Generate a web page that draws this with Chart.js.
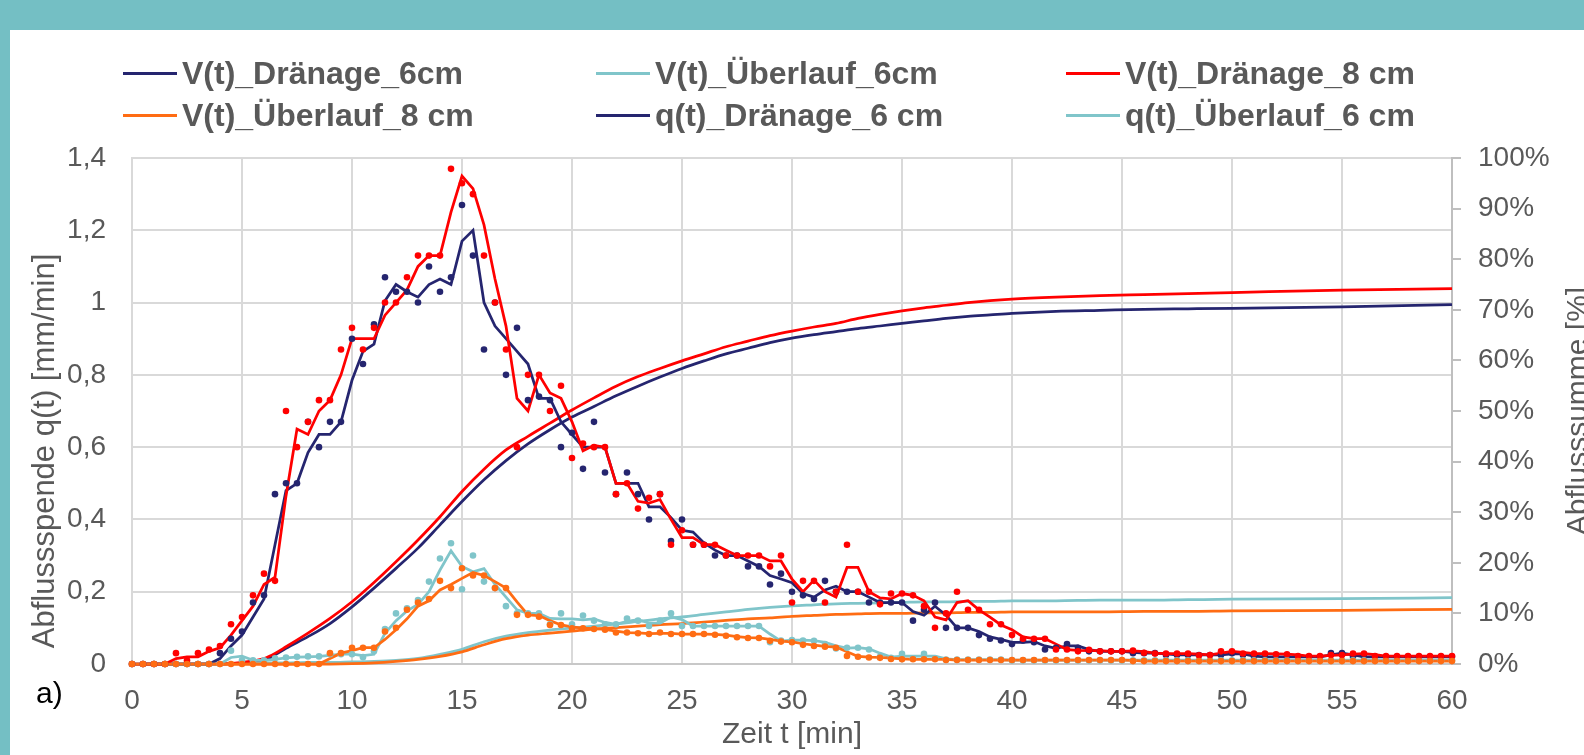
<!DOCTYPE html>
<html lang="de">
<head>
<meta charset="utf-8">
<title>Abflussspende und Abflusssumme</title>
<script src="https://cdn.jsdelivr.net/npm/chart.js@4.4.1/dist/chart.umd.min.js"></script>
<style>
  html, body { margin: 0; padding: 0; }
  body {
    width: 1584px; height: 755px; overflow: hidden; position: relative;
    background: #74BFC4;
    font-family: "Liberation Sans", Arial, sans-serif;
  }
  #panel { position: absolute; left: 10px; top: 30px; width: 1574px; height: 725px; background: #fff; }
  #chartBox { position: absolute; left: 0; top: 0; width: 1574px; height: 725px; }
  #legend { position: absolute; left: 0; top: 0; }
  .lgItem {
    position: absolute; display: flex; align-items: center; height: 36px;
    white-space: nowrap; font-weight: bold; font-size: 32px; color: #595959;
  }
  .lgSwatch { width: 54px; height: 3px; margin-right: 5px; }
</style>
</head>
<body>
<div id="panel">
  <div id="chartBox"><canvas id="chart"></canvas></div>
  <div id="legend"></div>
</div>

<script>
/* =========================
   Abflussspende q(t) / Abflusssumme V(t)
========================= */

// -------------------------
// Data (time grid: every 0.5 min, 0..60)
// -------------------------
const TIMES = Array.from({ length: 121 }, (_, i) => i / 2);

// q(t) Dränage 6 cm - measured points [mm/min]
const Q_DR6_PTS = [
  0, 0, 0, 0, 0, 0, 0, 0, 0.03, 0.07,
  0.09, 0.17, 0.19, 0.47, 0.50, 0.50, 0.67, 0.60, 0.67, 0.67,
  0.90, 0.83, 0.94, 1.07, 1.03, 1.03, 1.00, 1.10, 1.03, 1.07,
  1.27, 1.13, 0.87, 1.00, 0.80, 0.93, 0.73, 0.74, 0.73, 0.60,
  0.64, 0.54, 0.67, 0.53, 0.47, 0.53, 0.47, 0.40, 0.47, 0.34,
  0.40, 0.33, 0.33, 0.30, 0.30, 0.30, 0.27, 0.27, 0.22, 0.25,
  0.20, 0.19, 0.18, 0.23, 0.20, 0.20, 0.20, 0.17, 0.17, 0.17,
  0.17, 0.12, 0.15, 0.17, 0.10, 0.10, 0.10, 0.08, 0.07, 0.065,
  0.055, 0.065, 0.06, 0.04, 0.045, 0.055, 0.045, 0.035, 0.035, 0.035,
  0.035, 0.03, 0.03, 0.03, 0.025, 0.025, 0.025, 0.025, 0.025, 0.025,
  0.03, 0.025, 0.02, 0.02, 0.02, 0.02, 0.02, 0.02, 0.02, 0.03,
  0.03, 0.02, 0.02, 0.02, 0.02, 0.02, 0.02, 0.02, 0.02, 0.02,
  0.02
];
// q(t) Dränage 6 cm - smoothed line
const Q_DR6_AVG = [
  null, 0, 0, 0, 0, 0, 0, 0, 0.015, 0.05,
  0.08, 0.13, 0.18, 0.33, 0.48, 0.50, 0.585, 0.635, 0.635, 0.67,
  0.785, 0.865, 0.885, 1.005, 1.05, 1.03, 1.015, 1.05, 1.065, 1.05,
  1.17, 1.20, 1.00, 0.935, 0.90, 0.865, 0.83, 0.735, 0.735, 0.67,
  0.635, 0.60, 0.60, 0.60, 0.50, 0.50, 0.50, 0.435, 0.435, 0.405,
  0.37, 0.365, 0.335, 0.315, 0.30, 0.30, 0.285, 0.27, 0.245, 0.235,
  0.225, 0.195, 0.185, 0.205, 0.215, 0.20, 0.20, 0.185, 0.17, 0.17,
  0.17, 0.145, 0.135, 0.16, 0.135, 0.10, 0.10, 0.09, 0.075, 0.068,
  0.06, 0.06, 0.062, 0.05, 0.043, 0.05, 0.05, 0.04, 0.035, 0.035,
  0.035, 0.032, 0.03, 0.03, 0.028, 0.025, 0.025, 0.025, 0.025, 0.025,
  0.028, 0.028, 0.022, 0.02, 0.02, 0.02, 0.02, 0.02, 0.02, 0.025,
  0.03, 0.025, 0.02, 0.02, 0.02, 0.02, 0.02, 0.02, 0.02, 0.02,
  0.02
];

// q(t) Dränage 8 cm
const Q_DR8_PTS = [
  0, 0, 0, 0, 0.03, 0.01, 0.03, 0.04, 0.05, 0.11,
  0.13, 0.19, 0.25, 0.23, 0.70, 0.60, 0.67, 0.73, 0.73, 0.87,
  0.93, 0.87, 0.93, 1.00, 1.00, 1.07, 1.13, 1.13, 1.13, 1.37,
  1.33, 1.30, 1.13, 1.00, 0.87, 0.60, 0.80, 0.80, 0.70, 0.77,
  0.57, 0.61, 0.60, 0.60, 0.47, 0.50, 0.43, 0.46, 0.47, 0.33,
  0.37, 0.33, 0.33, 0.33, 0.30, 0.30, 0.30, 0.30, 0.27, 0.30,
  0.17, 0.23, 0.23, 0.17, 0.20, 0.33, 0.20, 0.20, 0.165, 0.195,
  0.195, 0.19, 0.16, 0.10, 0.14, 0.20, 0.15, 0.15, 0.11, 0.11,
  0.08, 0.07, 0.07, 0.07, 0.04, 0.04, 0.035, 0.039, 0.035, 0.035,
  0.035, 0.037, 0.031, 0.029, 0.029, 0.029, 0.029, 0.024, 0.025, 0.035,
  0.035, 0.029, 0.029, 0.029, 0.027, 0.027, 0.022, 0.022, 0.022, 0.025,
  0.025, 0.029, 0.029, 0.022, 0.022, 0.022, 0.022, 0.022, 0.022, 0.022,
  0.022
];
const Q_DR8_AVG = [
  null, 0, 0, 0, 0.015, 0.02, 0.02, 0.035, 0.045, 0.08,
  0.12, 0.16, 0.22, 0.24, 0.465, 0.65, 0.635, 0.70, 0.73, 0.80,
  0.90, 0.90, 0.90, 0.965, 1.00, 1.035, 1.10, 1.13, 1.13, 1.25,
  1.35, 1.315, 1.215, 1.065, 0.935, 0.735, 0.70, 0.80, 0.75, 0.735,
  0.67, 0.59, 0.605, 0.60, 0.50, 0.50, 0.45, 0.445, 0.455, 0.40,
  0.35, 0.35, 0.33, 0.33, 0.315, 0.30, 0.30, 0.30, 0.285, 0.285,
  0.235, 0.20, 0.232, 0.20, 0.185, 0.267, 0.267, 0.20, 0.183, 0.18,
  0.195, 0.19, 0.175, 0.13, 0.122, 0.17, 0.175, 0.15, 0.13, 0.108,
  0.095, 0.075, 0.07, 0.07, 0.055, 0.04, 0.038, 0.037, 0.037, 0.035,
  0.035, 0.036, 0.034, 0.03, 0.029, 0.029, 0.029, 0.027, 0.025, 0.03,
  0.035, 0.032, 0.029, 0.029, 0.028, 0.027, 0.025, 0.022, 0.022, 0.024,
  0.025, 0.027, 0.029, 0.026, 0.022, 0.022, 0.022, 0.022, 0.022, 0.022,
  0.022
];

// q(t) Überlauf 6 cm
const Q_UE6_PTS = [
  0, 0, 0, 0, 0, 0, 0, 0, 0, 0.037,
  0.01, 0.01, 0.01, 0.016, 0.018, 0.02, 0.021, 0.021, 0.027, 0.027,
  0.027, 0.019, 0.035, 0.097, 0.14, 0.154, 0.177, 0.228, 0.292, 0.334,
  0.207, 0.30, 0.228, 0.21, 0.16, 0.14, 0.14, 0.14, 0.11, 0.14,
  0.11, 0.134, 0.12, 0.11, 0.11, 0.126, 0.12, 0.105, 0.12, 0.14,
  0.105, 0.105, 0.105, 0.105, 0.105, 0.105, 0.105, 0.105, 0.06, 0.065,
  0.066, 0.065, 0.064, 0.055, 0.043, 0.045, 0.045, 0.04, 0.02, 0.017,
  0.028, 0.015, 0.028, 0.016, 0.012, 0.012, 0.012, 0.012, 0.012, 0.012,
  0.01, 0.01, 0.01, 0.01, 0.01, 0.01, 0.01, 0.01, 0.01, 0.01,
  0.01, 0.01, 0.01, 0.01, 0.01, 0.01, 0.01, 0.01, 0.01, 0.01,
  0.01, 0.01, 0.01, 0.01, 0.01, 0.01, 0.01, 0.01, 0.01, 0.01,
  0.01, 0.01, 0.01, 0.01, 0.01, 0.01, 0.01, 0.01, 0.01, 0.01,
  0.01
];
const Q_UE6_AVG = [
  null, 0, 0, 0, 0, 0, 0, 0, 0, 0.018,
  0.022, 0.01, 0.01, 0.013, 0.017, 0.019, 0.02, 0.021, 0.024, 0.027,
  0.027, 0.023, 0.027, 0.085, 0.12, 0.147, 0.165, 0.20, 0.26, 0.313,
  0.27, 0.255, 0.264, 0.22, 0.185, 0.15, 0.14, 0.14, 0.126, 0.125,
  0.125, 0.122, 0.125, 0.115, 0.11, 0.118, 0.123, 0.113, 0.113, 0.13,
  0.123, 0.105, 0.105, 0.105, 0.105, 0.105, 0.105, 0.105, 0.083, 0.063,
  0.066, 0.066, 0.065, 0.06, 0.05, 0.044, 0.045, 0.042, 0.03, 0.019,
  0.022, 0.022, 0.022, 0.022, 0.014, 0.012, 0.012, 0.012, 0.012, 0.012,
  0.011, 0.011, 0.011, 0.011, 0.011, 0.011, 0.011, 0.011, 0.011, 0.011,
  0.011, 0.011, 0.011, 0.011, 0.011, 0.011, 0.011, 0.011, 0.011, 0.011,
  0.011, 0.011, 0.011, 0.011, 0.011, 0.011, 0.011, 0.011, 0.011, 0.011,
  0.011, 0.011, 0.011, 0.011, 0.011, 0.011, 0.011, 0.011, 0.011, 0.011,
  0.011
];

// q(t) Überlauf 8 cm
const Q_UE8_PTS = [
  0, 0, 0, 0, 0, 0, 0, 0, 0, 0,
  0, 0, 0, 0, 0, 0, 0, 0, 0.03, 0.03,
  0.045, 0.045, 0.045, 0.09, 0.10, 0.15, 0.17, 0.18, 0.23, 0.21,
  0.265, 0.245, 0.245, 0.21, 0.21, 0.136, 0.136, 0.131, 0.108, 0.108,
  0.099, 0.099, 0.097, 0.095, 0.087, 0.087, 0.085, 0.083, 0.087, 0.083,
  0.083, 0.083, 0.083, 0.081, 0.078, 0.074, 0.072, 0.072, 0.064, 0.062,
  0.06, 0.053, 0.05, 0.048, 0.045, 0.022, 0.02, 0.018, 0.017, 0.014,
  0.013, 0.013, 0.013, 0.013, 0.011, 0.011, 0.011, 0.011, 0.011, 0.011,
  0.011, 0.011, 0.011, 0.011, 0.011, 0.011, 0.011, 0.011, 0.011, 0.011,
  0.011, 0.008, 0.008, 0.008, 0.008, 0.008, 0.008, 0.008, 0.008, 0.008,
  0.008, 0.008, 0.008, 0.008, 0.008, 0.008, 0.008, 0.008, 0.008, 0.008,
  0.008, 0.008, 0.008, 0.008, 0.008, 0.008, 0.008, 0.008, 0.008, 0.008,
  0.008
];
const Q_UE8_AVG = [
  null, 0, 0, 0, 0, 0, 0, 0, 0, 0,
  0, 0, 0, 0, 0, 0, 0, 0, 0.015, 0.03,
  0.037, 0.045, 0.045, 0.068, 0.095, 0.125, 0.16, 0.175, 0.205, 0.22,
  0.237, 0.253, 0.245, 0.228, 0.21, 0.172, 0.136, 0.134, 0.12, 0.108,
  0.103, 0.099, 0.098, 0.096, 0.091, 0.087, 0.086, 0.084, 0.085, 0.085,
  0.083, 0.083, 0.083, 0.082, 0.08, 0.076, 0.073, 0.072, 0.068, 0.063,
  0.061, 0.056, 0.052, 0.049, 0.047, 0.034, 0.021, 0.019, 0.018, 0.016,
  0.014, 0.013, 0.013, 0.013, 0.013, 0.011, 0.011, 0.011, 0.011, 0.011,
  0.011, 0.011, 0.011, 0.011, 0.011, 0.011, 0.011, 0.011, 0.011, 0.011,
  0.011, 0.01, 0.008, 0.008, 0.008, 0.008, 0.008, 0.008, 0.008, 0.008,
  0.008, 0.008, 0.008, 0.008, 0.008, 0.008, 0.008, 0.008, 0.008, 0.008,
  0.008, 0.008, 0.008, 0.008, 0.008, 0.008, 0.008, 0.008, 0.008, 0.008,
  0.008
];

// V(t) cumulative sums [%]
const CUM_T = [0, 4, 5, 5.5, 6, 6.5, 7, 8, 9,
  10, 11, 12, 13, 14, 15, 16, 17, 18, 19, 20, 21, 22, 23, 24, 25, 26, 27, 28, 29, 30,
  31, 32, 33, 34, 35, 36, 37, 38, 39, 40, 42, 44, 46, 48, 50, 55, 60];
const V_DR6 = [0, 0, 0.1, 0.2, 0.6, 1.8, 3.1, 5.4, 8.0,
  11.3, 15.0, 18.9, 22.9, 27.5, 32.1, 36.4, 40.2, 43.5, 46.3, 48.8, 50.9, 53.0, 54.9, 56.7, 58.4, 59.9, 61.3, 62.4, 63.5, 64.4,
  65.1, 65.7, 66.3, 66.8, 67.3, 67.8, 68.3, 68.7, 69.0, 69.3, 69.7, 69.9, 70.1, 70.2, 70.3, 70.6, 71.0];
const V_DR8 = [0, 0, 0.3, 0.6, 1.1, 2.1, 3.4, 6.1, 9.0,
  12.3, 16.1, 20.2, 24.5, 29.1, 34.1, 38.5, 42.3, 45.0, 47.6, 50.2, 52.6, 54.9, 56.8, 58.4, 59.9, 61.3, 62.7, 63.8, 64.9, 65.8,
  66.6, 67.3, 68.3, 69.1, 69.8, 70.4, 70.9, 71.4, 71.8, 72.1, 72.5, 72.8, 73.0, 73.2, 73.4, 73.9, 74.2];
const V_UE6 = [0, 0, 0.1, 0.1, 0.2, 0.2, 0.2, 0.3, 0.3,
  0.4, 0.5, 0.7, 1.1, 1.9, 2.9, 4.4, 5.5, 6.2, 6.7, 7.1, 7.5, 7.9, 8.4, 8.9, 9.3, 9.8, 10.3, 10.8, 11.2, 11.5,
  11.7, 11.9, 12.0, 12.1, 12.2, 12.3, 12.3, 12.4, 12.4, 12.5, 12.5, 12.6, 12.6, 12.7, 12.8, 12.9, 13.1];
const V_UE8 = [0, 0, 0, 0, 0, 0, 0, 0, 0,
  0.05, 0.2, 0.5, 0.9, 1.5, 2.4, 3.8, 5.0, 5.7, 6.1, 6.5, 6.9, 7.2, 7.5, 7.8, 8.0, 8.3, 8.6, 8.9, 9.1, 9.4,
  9.6, 9.8, 9.9, 10.0, 10.0, 10.1, 10.1, 10.2, 10.2, 10.3, 10.3, 10.3, 10.4, 10.4, 10.5, 10.6, 10.8];

const LABELS = {
  vDr6: "V(t)_Dränage_6cm",
  vUe6: "V(t)_Überlauf_6cm",
  vDr8: "V(t)_Dränage_8 cm",
  vUe8: "V(t)_Überlauf_8 cm",
  qDr6: "q(t)_Dränage_6 cm",
  qUe6: "q(t)_Überlauf_6 cm",
  qDr8: "q(t)_Dränage_8 cm",
  qUe8: "q(t)_Überlauf_8 cm"
};
const LEGEND_ORDER = ["vDr6", "vUe6", "vDr8", "vUe8", "qDr6", "qUe6"];

const X_TITLE = "Zeit t [min]";
const Y_TITLE = "Abflussspende q(t) [mm/min]";
const Y2_TITLE = "Abflusssumme [%]";
const PANEL_TAG = "a)";

// -------------------------
// Styling
// -------------------------
const NAVY = "#25256F";
const RED = "#FF0000";
const TEAL = "#80C5CA";
const ORANGE = "#FF6C13";
const GRID = "#D9D9D9";
const AXIS = "#BFBFBF";
const TEXT = "#595959";
const FONT = '"Liberation Sans", Arial, sans-serif';

Chart.defaults.font.family = FONT;
Chart.defaults.color = TEXT;

const pts = (values, times = TIMES) => values.map((v, i) => ({ x: times[i], y: v }));

function dots(key, values, color) {
  return {
    key, label: LABELS[key] + " (Messwerte)", data: pts(values), yAxisID: "y",
    showLine: false, pointRadius: 3.3, pointHoverRadius: 3.3, pointBorderWidth: 0,
    pointBackgroundColor: color, borderColor: color, backgroundColor: color, clip: false
  };
}
function qLine(key, values, color) {
  return {
    key, label: LABELS[key], data: pts(values), yAxisID: "y",
    borderColor: color, backgroundColor: color, borderWidth: 2.75,
    pointRadius: 0, tension: 0, clip: false
  };
}
function vLine(key, values, color) {
  return {
    key, label: LABELS[key], data: pts(values, CUM_T), yAxisID: "y2",
    borderColor: color, backgroundColor: color, borderWidth: 2.75,
    pointRadius: 0, cubicInterpolationMode: "monotone", clip: false
  };
}

// first dataset is drawn on top
const datasets = [
  dots("qUe8", Q_UE8_PTS, ORANGE),
  dots("qDr8", Q_DR8_PTS, RED),
  dots("qUe6", Q_UE6_PTS, TEAL),
  dots("qDr6", Q_DR6_PTS, NAVY),
  qLine("qUe8", Q_UE8_AVG, ORANGE),
  qLine("qDr8", Q_DR8_AVG, RED),
  qLine("qUe6", Q_UE6_AVG, TEAL),
  qLine("qDr6", Q_DR6_AVG, NAVY),
  vLine("vUe8", V_UE8, ORANGE),
  vLine("vDr8", V_DR8, RED),
  vLine("vUe6", V_UE6, TEAL),
  vLine("vDr6", V_DR6, NAVY)
];

// -------------------------
// Titles drawn by hand (right title reads bottom-to-top)
// -------------------------
const axisTitles = {
  id: "axisTitles",
  afterDraw(chart) {
    const { ctx, chartArea: a } = chart;
    const midY = (a.top + a.bottom) / 2;
    ctx.save();
    ctx.fillStyle = TEXT;
    ctx.textAlign = "center";
    ctx.textBaseline = "middle";
    ctx.font = `30px ${FONT}`;
    ctx.fillText(X_TITLE, (a.left + a.right) / 2, 705);

    ctx.save();
    ctx.font = `31px ${FONT}`;
    ctx.translate(35, midY + 40);
    ctx.rotate(-Math.PI / 2);
    ctx.fillText(Y_TITLE, 0, 0);
    ctx.restore();

    ctx.save();
    ctx.translate(1569, midY);
    ctx.rotate(-Math.PI / 2);
    ctx.fillText(Y2_TITLE, 0, 0);
    ctx.restore();

    ctx.fillStyle = "#000";
    ctx.textAlign = "left";
    ctx.fillText(PANEL_TAG, 26, 665);
    ctx.restore();
  }
};

const fmtComma = v => Number(v.toFixed(1)).toString().replace(".", ",");

const chart = new Chart(document.getElementById("chart"), {
  type: "line",
  data: { datasets },
  plugins: [axisTitles],
  options: {
    responsive: true,
    maintainAspectRatio: false,
    animation: false,
    events: [],
    layout: { padding: { top: 128, left: 0, right: 0, bottom: 0 } },
    plugins: { legend: { display: false }, tooltip: { enabled: false } },
    scales: {
      x: {
        type: "linear", min: 0, max: 60,
        ticks: { stepSize: 5, padding: 20, font: { size: 28 }, color: TEXT, maxRotation: 0 },
        grid: { color: GRID, lineWidth: 2, drawTicks: false },
        border: { color: "#C8C8C8", width: 2 },
        afterFit(s) { s.height = 91; }
      },
      y: {
        position: "left", min: 0, max: 1.4,
        ticks: { stepSize: 0.2, padding: 26, font: { size: 28 }, color: TEXT, callback: fmtComma },
        grid: { color: GRID, lineWidth: 2, drawTicks: false },
        border: { color: GRID, width: 2 },
        afterFit(s) { s.width = 122; }
      },
      y2: {
        position: "right", min: 0, max: 100,
        ticks: { stepSize: 10, padding: 17, font: { size: 28 }, color: TEXT, callback: v => v + "%" },
        grid: { drawOnChartArea: false, drawTicks: true, tickLength: 9, color: AXIS, lineWidth: 2 },
        border: { color: AXIS, width: 2 },
        afterFit(s) { s.width = 132; }
      }
    }
  }
});

// -------------------------
// Legend (3 columns x 2 rows)
// -------------------------
const LEGEND_COLS = [113, 586, 1056];
const LEGEND_ROWS = [43, 85];
const legendEl = document.getElementById("legend");
LEGEND_ORDER.forEach((key, i) => {
  const ds = chart.data.datasets.find(d => d.key === key && d.showLine !== false);
  const item = document.createElement("div");
  item.className = "lgItem";
  item.style.left = LEGEND_COLS[i % 3] + "px";
  item.style.top = (LEGEND_ROWS[Math.floor(i / 3)] - 18) + "px";
  const sw = document.createElement("span");
  sw.className = "lgSwatch";
  sw.style.background = ds.borderColor;
  const txt = document.createElement("span");
  txt.textContent = ds.label;
  item.appendChild(sw);
  item.appendChild(txt);
  legendEl.appendChild(item);
});
</script>
</body>
</html>
